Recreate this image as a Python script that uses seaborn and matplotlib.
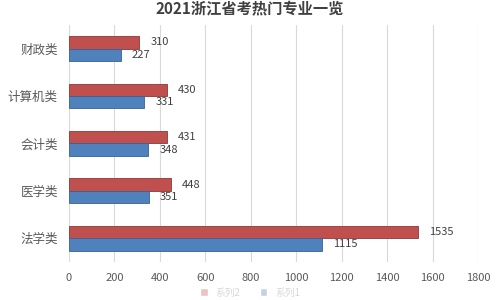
import matplotlib
matplotlib.use("Agg")
import matplotlib.pyplot as plt
import seaborn as sns
import pandas as pd

categories = ["财政类", "计算机类", "会计类", "医学类", "法学类"]
series_names = ["系列2", "系列1"]
red_values = [310, 430, 431, 448, 1535]
blue_values = [227, 331, 348, 351, 1115]
x_ticks = [0, 200, 400, 600, 800, 1000, 1200, 1400, 1600, 1800]
title = "2021浙江省考热门专业一览"

df = pd.DataFrame({
    "cat": categories * 2,
    "series": [series_names[0]] * len(categories) + [series_names[1]] * len(categories),
    "val": red_values + blue_values,
})

sns.set_theme(style="white")
plt.rcParams["font.family"] = ["Noto Sans CJK SC", "DejaVu Sans"]

fig = plt.figure(figsize=(5, 3), dpi=100)
ax = fig.add_axes([0.138, 0.127, 0.818, 0.79])

palette = {series_names[0]: "#C0504D", series_names[1]: "#4F81BD"}
sns.barplot(data=df, y="cat", x="val", hue="series", order=categories,
            hue_order=series_names, palette=palette, width=0.52,
            orient="h", ax=ax, saturation=1, legend=False)

for patch, sname in zip(ax.patches, [s for s in series_names for _ in categories]):
    patch.set_edgecolor("#8c3836" if sname == series_names[0] else "#3a6193")
    patch.set_linewidth(0.6)

for cont in ax.containers:
    ax.bar_label(cont, padding=8, fontsize=8, color="#404040")

ax.set_xlim(0, 1800)
ax.set_xticks(x_ticks)
ax.set_xticklabels([str(t) for t in x_ticks], fontsize=8, color="#595959")
ax.tick_params(axis="y", labelsize=9, labelcolor="#595959", length=0, pad=8)
ax.tick_params(axis="x", length=0, pad=8)
ax.set_ylim(4.5, -0.5)
ax.set_xlabel("")
ax.set_ylabel("")
ax.grid(axis="x", color="#d9d9d9", linewidth=0.8)
ax.set_axisbelow(True)
for s in ax.spines.values():
    s.set_visible(False)

fig.text(0.5, 0.972, title, ha="center", va="center", fontsize=11,
         fontweight="bold", color="#404040")

# faint legend near the bottom edge
from matplotlib.patches import Patch
handles = [Patch(facecolor="#e8c4c3", label=series_names[0]),
           Patch(facecolor="#c3d1e6", label=series_names[1])]
leg = fig.legend(handles=handles, loc="center", bbox_to_anchor=(0.5, 0.025),
                 ncol=2, frameon=False, fontsize=7, handlelength=0.8,
                 handleheight=0.8)
for t in leg.get_texts():
    t.set_color("#d8d8d8")

fig.savefig("out.png", dpi=100, facecolor="white")
